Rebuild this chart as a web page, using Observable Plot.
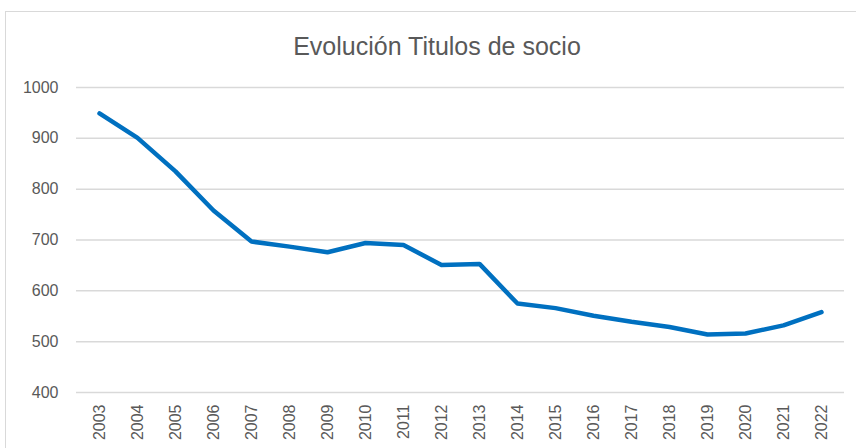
<!DOCTYPE html>
<html>
<head>
<meta charset="utf-8">
<script src="https://cdn.jsdelivr.net/npm/d3@7"></script>
<script src="https://cdn.jsdelivr.net/npm/@observablehq/plot@0.6"></script>
<style>
  html, body { margin: 0; padding: 0; background: #fff; }
  #wrap { position: relative; width: 856px; height: 448px; overflow: hidden; }
  #frame { position: absolute; left: 5px; top: 11px; width: 880px; height: 500px; border: 1px solid #d9d9d9; box-sizing: border-box; }
  #title { position: absolute; left: 5px; width: 864px; top: 32px; text-align: center; font-family: "Liberation Sans", Arial, sans-serif; font-size: 25px; line-height: 29px; color: #595959; }
  #chart { position: absolute; left: 0; top: 0; }
</style>
</head>
<body>
<div id="wrap">
  <div id="frame"></div>
  <div id="title">Evolución Titulos de socio</div>
  <div id="chart"></div>
</div>
<script>
const years = ["2003","2004","2005","2006","2007","2008","2009","2010","2011","2012","2013","2014","2015","2016","2017","2018","2019","2020","2021","2022"];
const titulos = [949, 901, 835, 758, 697, 687, 676, 694, 690, 651, 653, 575, 566, 551, 539, 529, 514, 516, 532, 558];
const yTicks = [400, 500, 600, 700, 800, 900, 1000];

const data = years.map((y, i) => ({year: y, value: titulos[i]}));

const chart = Plot.plot({
  width: 856,
  height: 448,
  marginLeft: 76,
  marginRight: 12,
  marginTop: 87,
  marginBottom: 56,
  style: { fontFamily: "'Liberation Sans', Arial, sans-serif", fontSize: "16px", color: "#595959", background: "transparent", overflow: "visible" },
  x: { type: "point", domain: years, padding: 0.5, label: null },
  y: { domain: [400, 1000], ticks: yTicks, label: null },
  marks: [
    Plot.ruleY(yTicks, { stroke: "#d9d9d9", strokeWidth: 1.5 }),
    Plot.axisY({ ticks: yTicks, tickFormat: d => String(d), tickSize: 0, tickPadding: 18, fontSize: 16, fill: "#595959" }),
    Plot.axisX({ tickRotate: -90, tickSize: 0, tickPadding: 12, fontSize: 16, fill: "#595959" }),
    Plot.line(data, { x: "year", y: "value", stroke: "#0070C0", strokeWidth: 4.5, strokeLinejoin: "round", strokeLinecap: "round" })
  ]
});
document.getElementById("chart").appendChild(chart);
</script>
</body>
</html>
